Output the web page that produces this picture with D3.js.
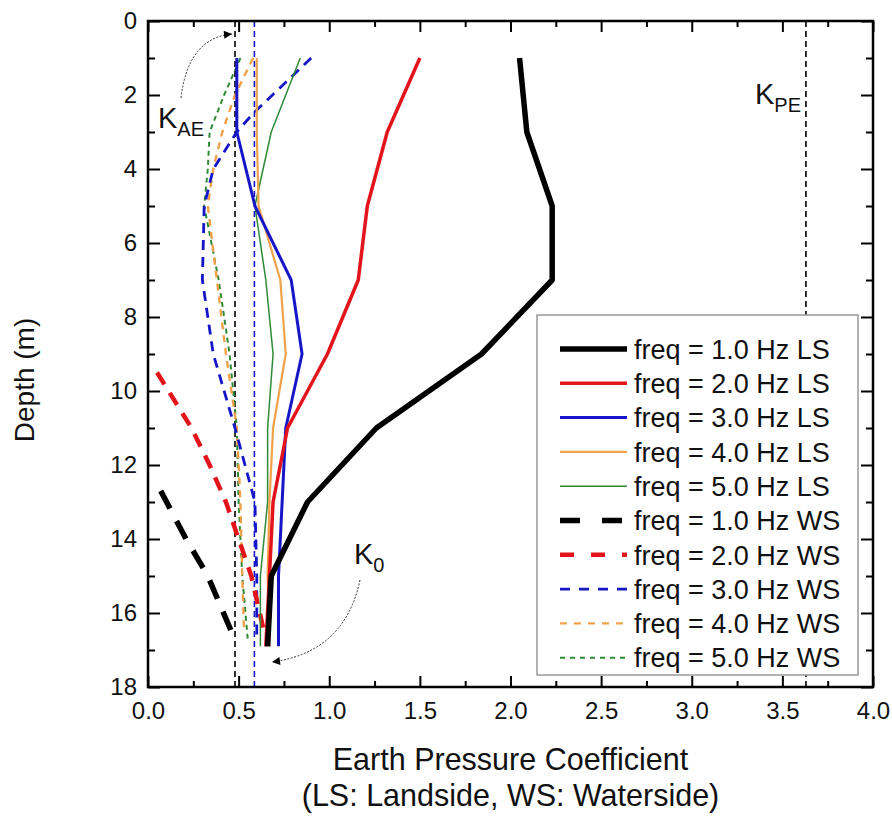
<!DOCTYPE html>
<html>
<head>
<meta charset="utf-8">
<script src="https://cdn.jsdelivr.net/npm/d3@7"></script>
<style>
  body { margin: 0; background: #fff; }
  svg { font-family: "Liberation Sans", Arial, sans-serif; }
</style>
</head>
<body>
<div id="chart"></div>
<script>
// depths (m) of the landside (LS) readings
const lsDepth = [1, 3, 5, 7, 9, 11, 13, 15, 16.9];
const ls1Hz = [2.05, 2.09, 2.23, 2.23, 1.84, 1.26, 0.88, 0.68, 0.66];
const ls2Hz = [1.5, 1.32, 1.21, 1.16, 0.99, 0.77, 0.69, 0.67, 0.65];
const ls3Hz = [0.49, 0.49, 0.59, 0.79, 0.85, 0.76, 0.74, 0.72, 0.72];
const ls4Hz = [0.6, 0.6, 0.61, 0.73, 0.76, 0.69, 0.67, 0.66, 0.67];
const ls5Hz = [0.84, 0.68, 0.59, 0.65, 0.69, 0.66, 0.66, 0.62, 0.62];

// waterside (WS) readings: [depth, coefficient]
const ws1Hz = [[12.7, 0.07], [14, 0.21], [15, 0.33], [16.5, 0.46]];
const ws2Hz = [[9.5, 0.05], [11, 0.24], [12, 0.34], [13, 0.43], [14, 0.5], [15, 0.57], [16.5, 0.64]];
const ws3Hz = [[1, 0.9], [2.5, 0.58], [3, 0.49], [4, 0.36], [5, 0.31], [7, 0.3], [9, 0.36], [11, 0.48], [13, 0.59], [15, 0.6], [16.7, 0.6]];
const ws4Hz = [[1, 0.58], [2, 0.48], [3, 0.41], [4, 0.36], [5, 0.33], [7, 0.38], [9, 0.43], [11, 0.49], [13, 0.51], [15, 0.52], [16.5, 0.53]];
const ws5Hz = [[1, 0.51], [2, 0.42], [3, 0.34], [4, 0.33], [5, 0.31], [7, 0.39], [9, 0.45], [11, 0.49], [13, 0.5], [15, 0.52], [16.7, 0.55]];

// reference coefficients
const K_AE = 0.48;
const K_0 = 0.587;
const K_PE = 3.63;

const legendLabels = [
  "freq = 1.0 Hz LS", "freq = 2.0 Hz LS", "freq = 3.0 Hz LS", "freq = 4.0 Hz LS", "freq = 5.0 Hz LS",
  "freq = 1.0 Hz WS", "freq = 2.0 Hz WS", "freq = 3.0 Hz WS", "freq = 4.0 Hz WS", "freq = 5.0 Hz WS"
];

const width = 892, height = 817;
const plot = { left: 148, right: 873, top: 21, bottom: 687 };

const svg = d3.select("#chart").append("svg")
  .attr("width", width)
  .attr("height", height);

const x = d3.scaleLinear().domain([0, 4]).range([plot.left, plot.right]);
const y = d3.scaleLinear().domain([0, 18]).range([plot.top, plot.bottom]);

// series styles
const series = [
  { data: lsDepth.map((d, i) => [d, ls1Hz[i]]), color: "#000000", w: 5.5, dash: null, legDash: null },
  { data: lsDepth.map((d, i) => [d, ls2Hz[i]]), color: "#e3141b", w: 3.5, dash: null, legDash: null },
  { data: lsDepth.map((d, i) => [d, ls3Hz[i]]), color: "#1616c8", w: 3, dash: null, legDash: null },
  { data: lsDepth.map((d, i) => [d, ls4Hz[i]]), color: "#f0a24a", w: 2.2, dash: null, legDash: null },
  { data: lsDepth.map((d, i) => [d, ls5Hz[i]]), color: "#2f8a35", w: 1.5, dash: null, legDash: null },
  { data: ws1Hz, color: "#000000", w: 5.5, dash: "20,14", legDash: "20,22" },
  { data: ws2Hz, color: "#e3141b", w: 4.5, dash: "14,10", legDash: "14,17" },
  { data: ws3Hz, color: "#1616c8", w: 2.8, dash: "10,7", legDash: "10,9" },
  { data: ws4Hz, color: "#f0a24a", w: 2.4, dash: "7,6", legDash: "7,7" },
  { data: ws5Hz, color: "#2f8a35", w: 2, dash: "5,4", legDash: "5,5" }
];

svg.append("clipPath").attr("id", "clip")
  .append("rect")
  .attr("x", plot.left).attr("y", plot.top)
  .attr("width", plot.right - plot.left).attr("height", plot.bottom - plot.top);

const g = svg.append("g").attr("clip-path", "url(#clip)");

// reference lines
[[K_AE, "#000"], [K_0, "#1616c8"], [K_PE, "#000"]].forEach(([k, c]) => {
  g.append("line")
    .attr("x1", x(k)).attr("x2", x(k))
    .attr("y1", y(0)).attr("y2", y(18))
    .attr("stroke", c)
    .attr("stroke-width", 1.6)
    .attr("stroke-dasharray", "6,4");
});

const line = d3.line().x(d => x(d[1])).y(d => y(d[0]));

// WS first, LS on top
series.slice().reverse().forEach(s => {
  g.append("path")
    .datum(s.data)
    .attr("d", line)
    .attr("fill", "none")
    .attr("stroke", s.color)
    .attr("stroke-width", s.w)
    .attr("stroke-linejoin", "round")
    .attr("stroke-dasharray", s.dash);
});

// axes
const majorX = d3.range(0, 4.01, 0.5);
const minorX = d3.range(0.25, 4, 0.5);
const majorY = d3.range(0, 18.01, 2);
const minorY = d3.range(1, 18, 2);

function styleAxis(sel) {
  sel.select(".domain").remove();
  sel.selectAll(".tick line").attr("stroke", "#000").attr("stroke-width", 2);
}

svg.append("g").attr("transform", `translate(0,${plot.bottom})`)
  .call(d3.axisBottom(x).tickValues(majorX).tickSize(-11).tickFormat(d3.format(".1f")).tickPadding(11))
  .call(styleAxis)
  .call(s => s.selectAll("text").attr("font-size", 24).attr("fill", "#111").attr("dy", "0.88em"));
svg.append("g").attr("transform", `translate(0,${plot.bottom})`)
  .call(d3.axisBottom(x).tickValues(minorX).tickSize(-6).tickFormat(""))
  .call(styleAxis);
svg.append("g").attr("transform", `translate(0,${plot.top})`)
  .call(d3.axisTop(x).tickValues(majorX).tickSize(-11).tickFormat(""))
  .call(styleAxis);
svg.append("g").attr("transform", `translate(0,${plot.top})`)
  .call(d3.axisTop(x).tickValues(minorX).tickSize(-6).tickFormat(""))
  .call(styleAxis);

svg.append("g").attr("transform", `translate(${plot.left},0)`)
  .call(d3.axisLeft(y).tickValues(majorY).tickSize(-12).tickPadding(11))
  .call(styleAxis)
  .call(s => s.selectAll("text").attr("font-size", 24).attr("fill", "#111"));
svg.append("g").attr("transform", `translate(${plot.left},0)`)
  .call(d3.axisLeft(y).tickValues(minorY).tickSize(-7).tickFormat(""))
  .call(styleAxis);
svg.append("g").attr("transform", `translate(${plot.right},0)`)
  .call(d3.axisRight(y).tickValues(majorY).tickSize(-12).tickFormat(""))
  .call(styleAxis);
svg.append("g").attr("transform", `translate(${plot.right},0)`)
  .call(d3.axisRight(y).tickValues(minorY).tickSize(-7).tickFormat(""))
  .call(styleAxis);

svg.append("rect")
  .attr("x", plot.left).attr("y", plot.top)
  .attr("width", plot.right - plot.left).attr("height", plot.bottom - plot.top)
  .attr("fill", "none").attr("stroke", "#000").attr("stroke-width", 2.5);

// axis titles
svg.append("text")
  .attr("x", (plot.left + plot.right) / 2).attr("y", 770)
  .attr("text-anchor", "middle").attr("font-size", 30.5).attr("fill", "#111")
  .text("Earth Pressure Coefficient");
svg.append("text")
  .attr("x", (plot.left + plot.right) / 2).attr("y", 806)
  .attr("text-anchor", "middle").attr("font-size", 30.5).attr("fill", "#111")
  .text("(LS: Landside, WS: Waterside)");
svg.append("text")
  .attr("transform", "translate(34,380) rotate(-90)")
  .attr("text-anchor", "middle").attr("font-size", 28).attr("fill", "#111")
  .text("Depth (m)");

// annotations
function kLabel(tx, ty, sub) {
  const t = svg.append("text").attr("x", tx).attr("y", ty).attr("font-size", 29).attr("fill", "#111");
  t.append("tspan").text("K");
  t.append("tspan").attr("font-size", 20).attr("dy", 8).text(sub);
}
kLabel(158, 128, "AE");
kLabel(755, 104, "PE");
kLabel(354, 564, "0");

svg.append("defs").append("marker")
  .attr("id", "arrow").attr("viewBox", "0 0 10 10")
  .attr("refX", 10).attr("refY", 5)
  .attr("markerWidth", 10).attr("markerHeight", 8)
  .attr("markerUnits", "userSpaceOnUse")
  .attr("orient", "auto")
  .append("path").attr("d", "M0,0 L10,5 L0,10 Z").attr("fill", "#000");

svg.append("path")
  .attr("d", "M181,98 Q188,38 232,34")
  .attr("fill", "none").attr("stroke", "#333").attr("stroke-width", 1)
  .attr("stroke-dasharray", "2,1.5")
  .attr("marker-end", "url(#arrow)");
svg.append("path")
  .attr("d", "M360,580 Q345,652 272,662")
  .attr("fill", "none").attr("stroke", "#333").attr("stroke-width", 1)
  .attr("stroke-dasharray", "2,1.5")
  .attr("marker-end", "url(#arrow)");

// legend
const leg = svg.append("g");
leg.append("rect")
  .attr("x", 537).attr("y", 315).attr("width", 321).attr("height", 360)
  .attr("fill", "#fff").attr("stroke", "#999").attr("stroke-width", 1.5);

series.forEach((s, i) => {
  const ly = 349 + i * 34.3;
  leg.append("line")
    .attr("x1", 560).attr("x2", 627).attr("y1", ly).attr("y2", ly)
    .attr("stroke", s.color).attr("stroke-width", s.w)
    .attr("stroke-dasharray", s.legDash);
  leg.append("text")
    .attr("x", 634).attr("y", ly).attr("dy", "0.36em")
    .attr("font-size", 27).attr("fill", "#111")
    .text(legendLabels[i]);
});
</script>
</body>
</html>
